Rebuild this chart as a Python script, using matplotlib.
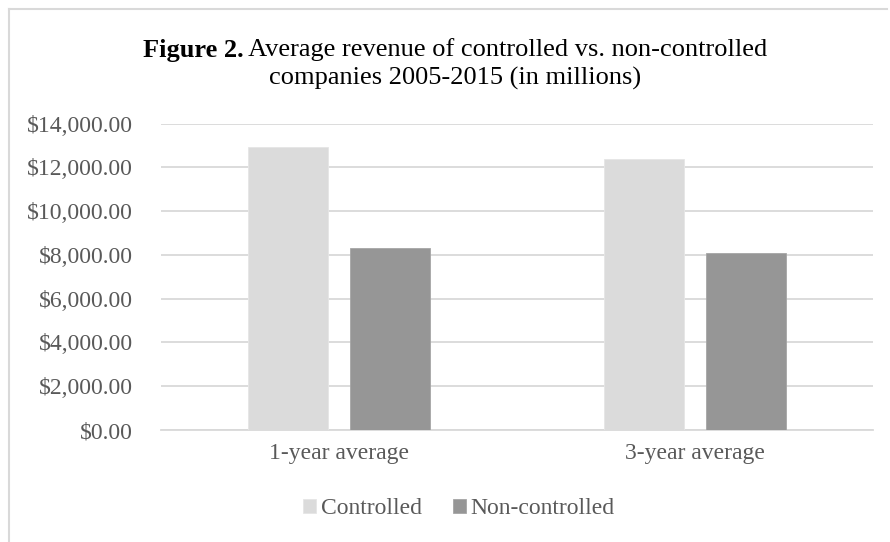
import numpy as np
import matplotlib.pyplot as plt
from matplotlib.lines import Line2D
from matplotlib.ticker import FuncFormatter

categories = ['1-year average', '3-year average']
controlled = [12940, 12380]
non_controlled = [8330, 8070]
series_names = ['Controlled', 'Non-controlled']

plt.rcParams['font.family'] = ['Liberation Serif', 'DejaVu Serif']

fig = plt.figure(figsize=(8.9, 5.42), dpi=100)
W, H = 890, 542

# chart border: only the top and left edges show in the cropped original
fig.add_artist(Line2D([9 / W, 9 / W], [0.0, 1 - 9 / H],
                      transform=fig.transFigure, color='#d9d9d9', lw=1.5))
fig.add_artist(Line2D([9 / W, 887 / W], [1 - 9 / H, 1 - 9 / H],
                      transform=fig.transFigure, color='#d9d9d9', lw=1.5))

ax = fig.add_axes([161 / W, 1 - 430 / H, (873 - 161) / W, (430 - 123.5) / H])

x = np.arange(len(categories))
w = 0.225
off = 0.143
ax.bar(x - off, controlled, w, color='#dbdbdb', edgecolor='#e6e6e6', lw=0.6,
       label=series_names[0], zorder=3)
ax.bar(x + off, non_controlled, w, color='#969696', edgecolor='#a6a6a6', lw=0.6,
       label=series_names[1], zorder=3)

ax.set_xlim(-0.5, 1.5)
ax.set_ylim(0, 14000)
ax.set_yticks(np.arange(0, 14001, 2000))
ax.yaxis.set_major_formatter(FuncFormatter(lambda v, p: '${:,.2f}'.format(v)))
ax.set_xticks(x)
ax.set_xticklabels(categories)

ax.grid(axis='y', color='#d9d9d9', lw=1.3, zorder=0)
for s in ['top', 'right', 'left']:
    ax.spines[s].set_visible(False)
ax.spines['bottom'].set_color('#d9d9d9')
ax.spines['bottom'].set_linewidth(1.3)
ax.tick_params(axis='y', length=0, pad=20, labelsize=17, labelcolor='#595959')
ax.tick_params(axis='x', length=0, pad=9, labelsize=17, labelcolor='#595959')

# title: bold "Figure 2." followed by normal text, centred
cx = 455 / W
t1 = fig.text(0, 1 - 50 / H, 'Figure 2.', fontsize=19, weight='bold', va='center')
t2 = fig.text(0, 1 - 50 / H, ' Average revenue of controlled vs. non-controlled',
              fontsize=19, va='center')
r = fig.canvas.get_renderer()
w1 = t1.get_window_extent(r).width
w2 = t2.get_window_extent(r).width
start = cx * W - (w1 + w2) / 2
t1.set_x(start / W)
t2.set_x((start + w1) / W)
fig.text(cx, 1 - 78 / H, 'companies 2005-2015 (in millions)', fontsize=19,
         ha='center', va='center')

fig.legend(loc='center', bbox_to_anchor=(459 / W, 1 - 509 / H), ncol=2,
           frameon=False, fontsize=17, labelcolor='#595959',
           handlelength=0.55, handleheight=0.55, handletextpad=0.2,
           columnspacing=1.3)

plt.savefig('out.png', dpi=100)
